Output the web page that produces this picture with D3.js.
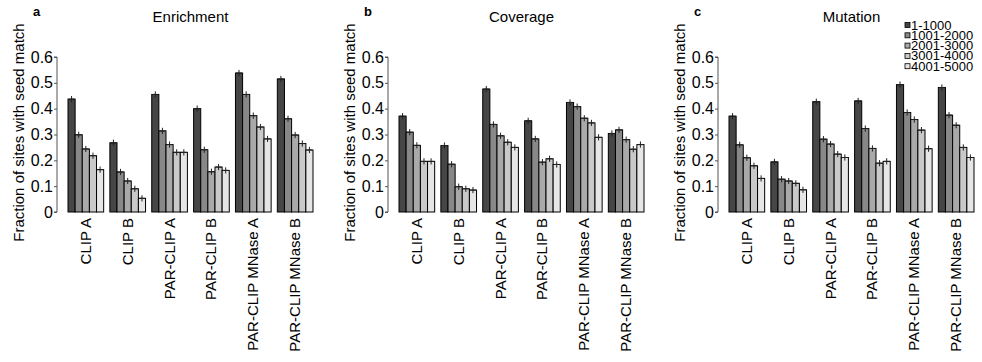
<!DOCTYPE html>
<html>
  <head>
    <meta charset="utf-8">
    <title>Seed match fractions</title>
    <style media="screen">
      body {margin:0; background:#fff}
      text {font-family: "Liberation Sans", Arial, sans-serif; fill:#000}
    </style>
  </head>
  <body>
    <script src="https://cdn.jsdelivr.net/npm/d3@7"></script>
    <script type="text/javascript">

    const samples = ['CLIP A', 'CLIP B', 'PAR-CLIP A', 'PAR-CLIP B', 'PAR-CLIP MNase A', 'PAR-CLIP MNase B']
    const bins = ['1-1000', '1001-2000', '2001-3000', '3001-4000', '4001-5000']
    const yTicks = [0, 0.1, 0.2, 0.3, 0.4, 0.5, 0.6]

    // one row per sample, one value per bin
    const enrichment = [
      [0.437, 0.299, 0.244, 0.218, 0.164],
      [0.268, 0.155, 0.120, 0.090, 0.053],
      [0.455, 0.314, 0.261, 0.231, 0.231],
      [0.400, 0.241, 0.156, 0.174, 0.161],
      [0.538, 0.455, 0.373, 0.329, 0.283],
      [0.515, 0.361, 0.298, 0.265, 0.240]
    ]
    const coverage = [
      [0.371, 0.309, 0.258, 0.196, 0.196],
      [0.257, 0.185, 0.098, 0.090, 0.085],
      [0.476, 0.339, 0.295, 0.270, 0.250],
      [0.353, 0.283, 0.193, 0.206, 0.184],
      [0.424, 0.408, 0.363, 0.345, 0.289],
      [0.304, 0.318, 0.280, 0.243, 0.261]
    ]
    const mutation = [
      [0.371, 0.260, 0.210, 0.179, 0.130],
      [0.194, 0.127, 0.120, 0.111, 0.086],
      [0.427, 0.282, 0.263, 0.224, 0.211],
      [0.430, 0.323, 0.246, 0.189, 0.196],
      [0.493, 0.385, 0.358, 0.317, 0.245],
      [0.482, 0.375, 0.336, 0.250, 0.211]
    ]
    const errHalf = 0.012

    const panels = [
      {letter: 'a', title: 'Enrichment', values: enrichment, x0: 57},
      {letter: 'b', title: 'Coverage', values: coverage, x0: 388},
      {letter: 'c', title: 'Mutation', values: mutation, x0: 718}
    ]

    const colors = ['#464646', '#888888', '#a9a9a9', '#c9c9c9', '#e6e6e6']

    const w = 982, h = 362
    const svg = d3.select('body').append('svg')
      .attr('width', w)
      .attr('height', h)

    const y = d3.scaleLinear().domain([0, 0.6]).range([212, 57])

    const xGroup = d3.scaleBand().domain(samples).range([11, 256]).paddingInner(0.148).paddingOuter(0)
    const xBin = d3.scaleBand().domain(bins).range([0, xGroup.bandwidth()])
    const color = d3.scaleOrdinal().domain(bins).range(colors)

    panels.forEach(p => {
      const g = svg.append('g').attr('transform', `translate(${p.x0},0)`)

      // y axis
      const ax = g.append('g')
        .call(d3.axisLeft(y).tickValues(yTicks).tickFormat(d => d === 0 ? '0' : d3.format('.1f')(d)).tickSize(3).tickPadding(1))
      ax.select('.domain').attr('stroke', '#555').attr('d', `M-3,${y(0.6)}H0V${y(0)}H-3`)
      ax.selectAll('.tick line').attr('stroke', '#555')
      ax.selectAll('.tick text').style('font-size', '16px').attr('font-family', null)

      g.append('text')
        .attr('transform', `translate(-33,${(y(0) + y(0.6)) / 2 - 2}) rotate(-90)`)
        .attr('text-anchor', 'middle')
        .style('font-size', '15px')
        .text('Fraction of sites with seed match')

      g.append('text')
        .attr('x', -24).attr('y', 16)
        .style('font-size', '13px').style('font-weight', 'bold')
        .text(p.letter)

      g.append('text')
        .attr('x', (xGroup.range()[0] + xGroup.range()[1]) / 2).attr('y', 22)
        .attr('text-anchor', 'middle')
        .style('font-size', '15px')
        .text(p.title)

      const groups = g.selectAll('.grp').data(samples).join('g')
        .attr('transform', s => `translate(${xGroup(s)},0)`)

      groups.each(function (s, i) {
        const rows = bins.map((b, j) => ({bin: b, v: p.values[i][j]}))
        const gg = d3.select(this)
        gg.selectAll('rect').data(rows).join('rect')
          .attr('x', d => xBin(d.bin))
          .attr('y', d => y(d.v))
          .attr('width', xBin.bandwidth())
          .attr('height', d => y(0) - y(d.v))
          .attr('fill', d => color(d.bin))
          .attr('stroke', '#000')
          .attr('stroke-width', 1)

        const cx = d => xBin(d.bin) + xBin.bandwidth() / 2
        gg.selectAll('.err').data(rows).join('path')
          .attr('class', 'err')
          .attr('fill', 'none')
          .attr('stroke', '#222')
          .attr('stroke-width', 1)
          .attr('d', d => `M${cx(d)},${y(d.v + errHalf)}V${y(d.v - errHalf)}M${cx(d) - 3},${y(d.v)}H${cx(d) + 3}`)

        gg.append('text')
          .attr('transform', `translate(${xGroup.bandwidth() / 2 + 5},218) rotate(-90)`)
          .attr('text-anchor', 'end')
          .style('font-size', '15px')
          .text(s)
      })
    })

    // legend
    const leg = svg.append('g').attr('transform', 'translate(905,25)')
    const rows = leg.selectAll('g').data(bins).join('g')
      .attr('transform', (d, i) => `translate(0,${i * 10.3})`)
    rows.append('rect')
      .attr('x', 0).attr('y', -2.5).attr('width', 5).attr('height', 5)
      .attr('fill', d => color(d)).attr('stroke', '#000').attr('stroke-width', 0.8)
    rows.append('text')
      .attr('x', 6).attr('y', 4.5)
      .style('font-size', '13px')
      .text(d => d)

    </script>
  </body>
</html>
